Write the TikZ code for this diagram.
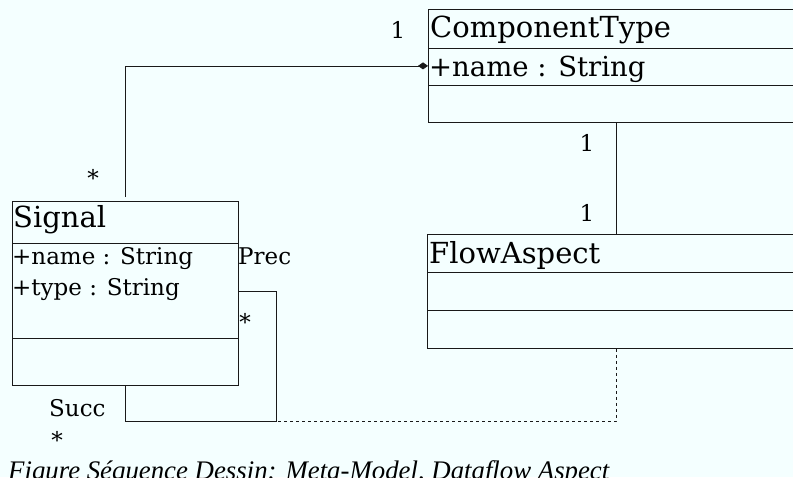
\documentclass[tikz,border=0pt]{standalone}
\usepackage{fontspec}
\setmainfont{DejaVu Serif}
\newfontfamily\capfont{Liberation Serif}
\usetikzlibrary{arrows.meta,positioning}

\definecolor{paper}{RGB}{244,255,255}
\definecolor{ink}{RGB}{25,25,25}

\tikzset{
  classbox/.style={draw=ink, line width=0.8pt, anchor=north west, inner sep=0pt},
  cname/.style={font=\fontsize{29}{31}\selectfont, inner sep=0pt, anchor=base west},
  cattr/.style={font=\fontsize{27.5}{29}\selectfont, inner sep=0pt, anchor=base west},
  sattr/.style={font=\fontsize{23}{25}\selectfont, inner sep=0pt, anchor=base west},
  mult/.style={font=\fontsize{23}{25}\selectfont, inner sep=0pt},
  assoc/.style={draw=ink, line width=0.8pt},
  caption/.style={font=\capfont\itshape\fontsize{26.8}{28}\selectfont, inner sep=0pt, anchor=base west}
}

\begin{document}
\begin{tikzpicture}[x=1pt,y=-1pt]
\fill[paper] (0,0) rectangle (793,477);
\clip (0,0) rectangle (793,477);

% classes
\node[classbox, minimum width=376pt, minimum height=113pt] (ctype) at (428,9) {};
\draw[assoc] (428,48) -- (793,48);
\draw[assoc] (428,85) -- (793,85);
\node[cname] (ctypename) at (430,37) {ComponentType};
\node[cattr] (ctypeattr) at (429,76) {+name : String};

\node[classbox, minimum width=378pt, minimum height=114pt] (flow) at (427,234) {};
\draw[assoc] (427,272) -- (793,272);
\draw[assoc] (427,310) -- (793,310);
\node[cname] (flowname) at (429,263) {FlowAspect};

\node[classbox, minimum width=226pt, minimum height=184pt] (signal) at (12,201) {};
\draw[assoc] (12,243) -- (238,243);
\draw[assoc] (12,338) -- (238,338);
\node[cname] (signalname) at (13,227) {Signal};
\node[sattr] (signalattr1) at (12,264) {+name : String};
\node[sattr] (signalattr2) at (12,295) {+type : String};

% associations
\coordinate (loop) at (276,421);
\draw[assoc, shorten <=4pt, -{Diamond[length=10pt,width=7pt]}] (signal.north) |- (ctype.west);
\draw[assoc] (ctype.south) -- (flow.north);
\draw[assoc] (signal.east |- 0,291) -| (loop) -| (signal.south);
\draw[assoc, dash pattern=on 3pt off 3pt] (flow.south) |- (loop);

% multiplicities and roles
\node[mult] (m1) at (398,30) {1};
\node[mult] (m2) at (93,178) {*};
\node[mult] (m3) at (587,143) {1};
\node[mult] (m4) at (587,213) {1};
\node[mult, anchor=base west] (prec) at (238,264) {Prec};
\node[mult] (m5) at (245,322) {*};
\node[mult, anchor=base west] (succ) at (49,416) {Succ};
\node[mult] (m6) at (57,440) {*};

\node[caption] (cap) at (8,479) {Figure Séquence Dessin: Meta-Model, Dataflow Aspect};
\end{tikzpicture}
\end{document}
